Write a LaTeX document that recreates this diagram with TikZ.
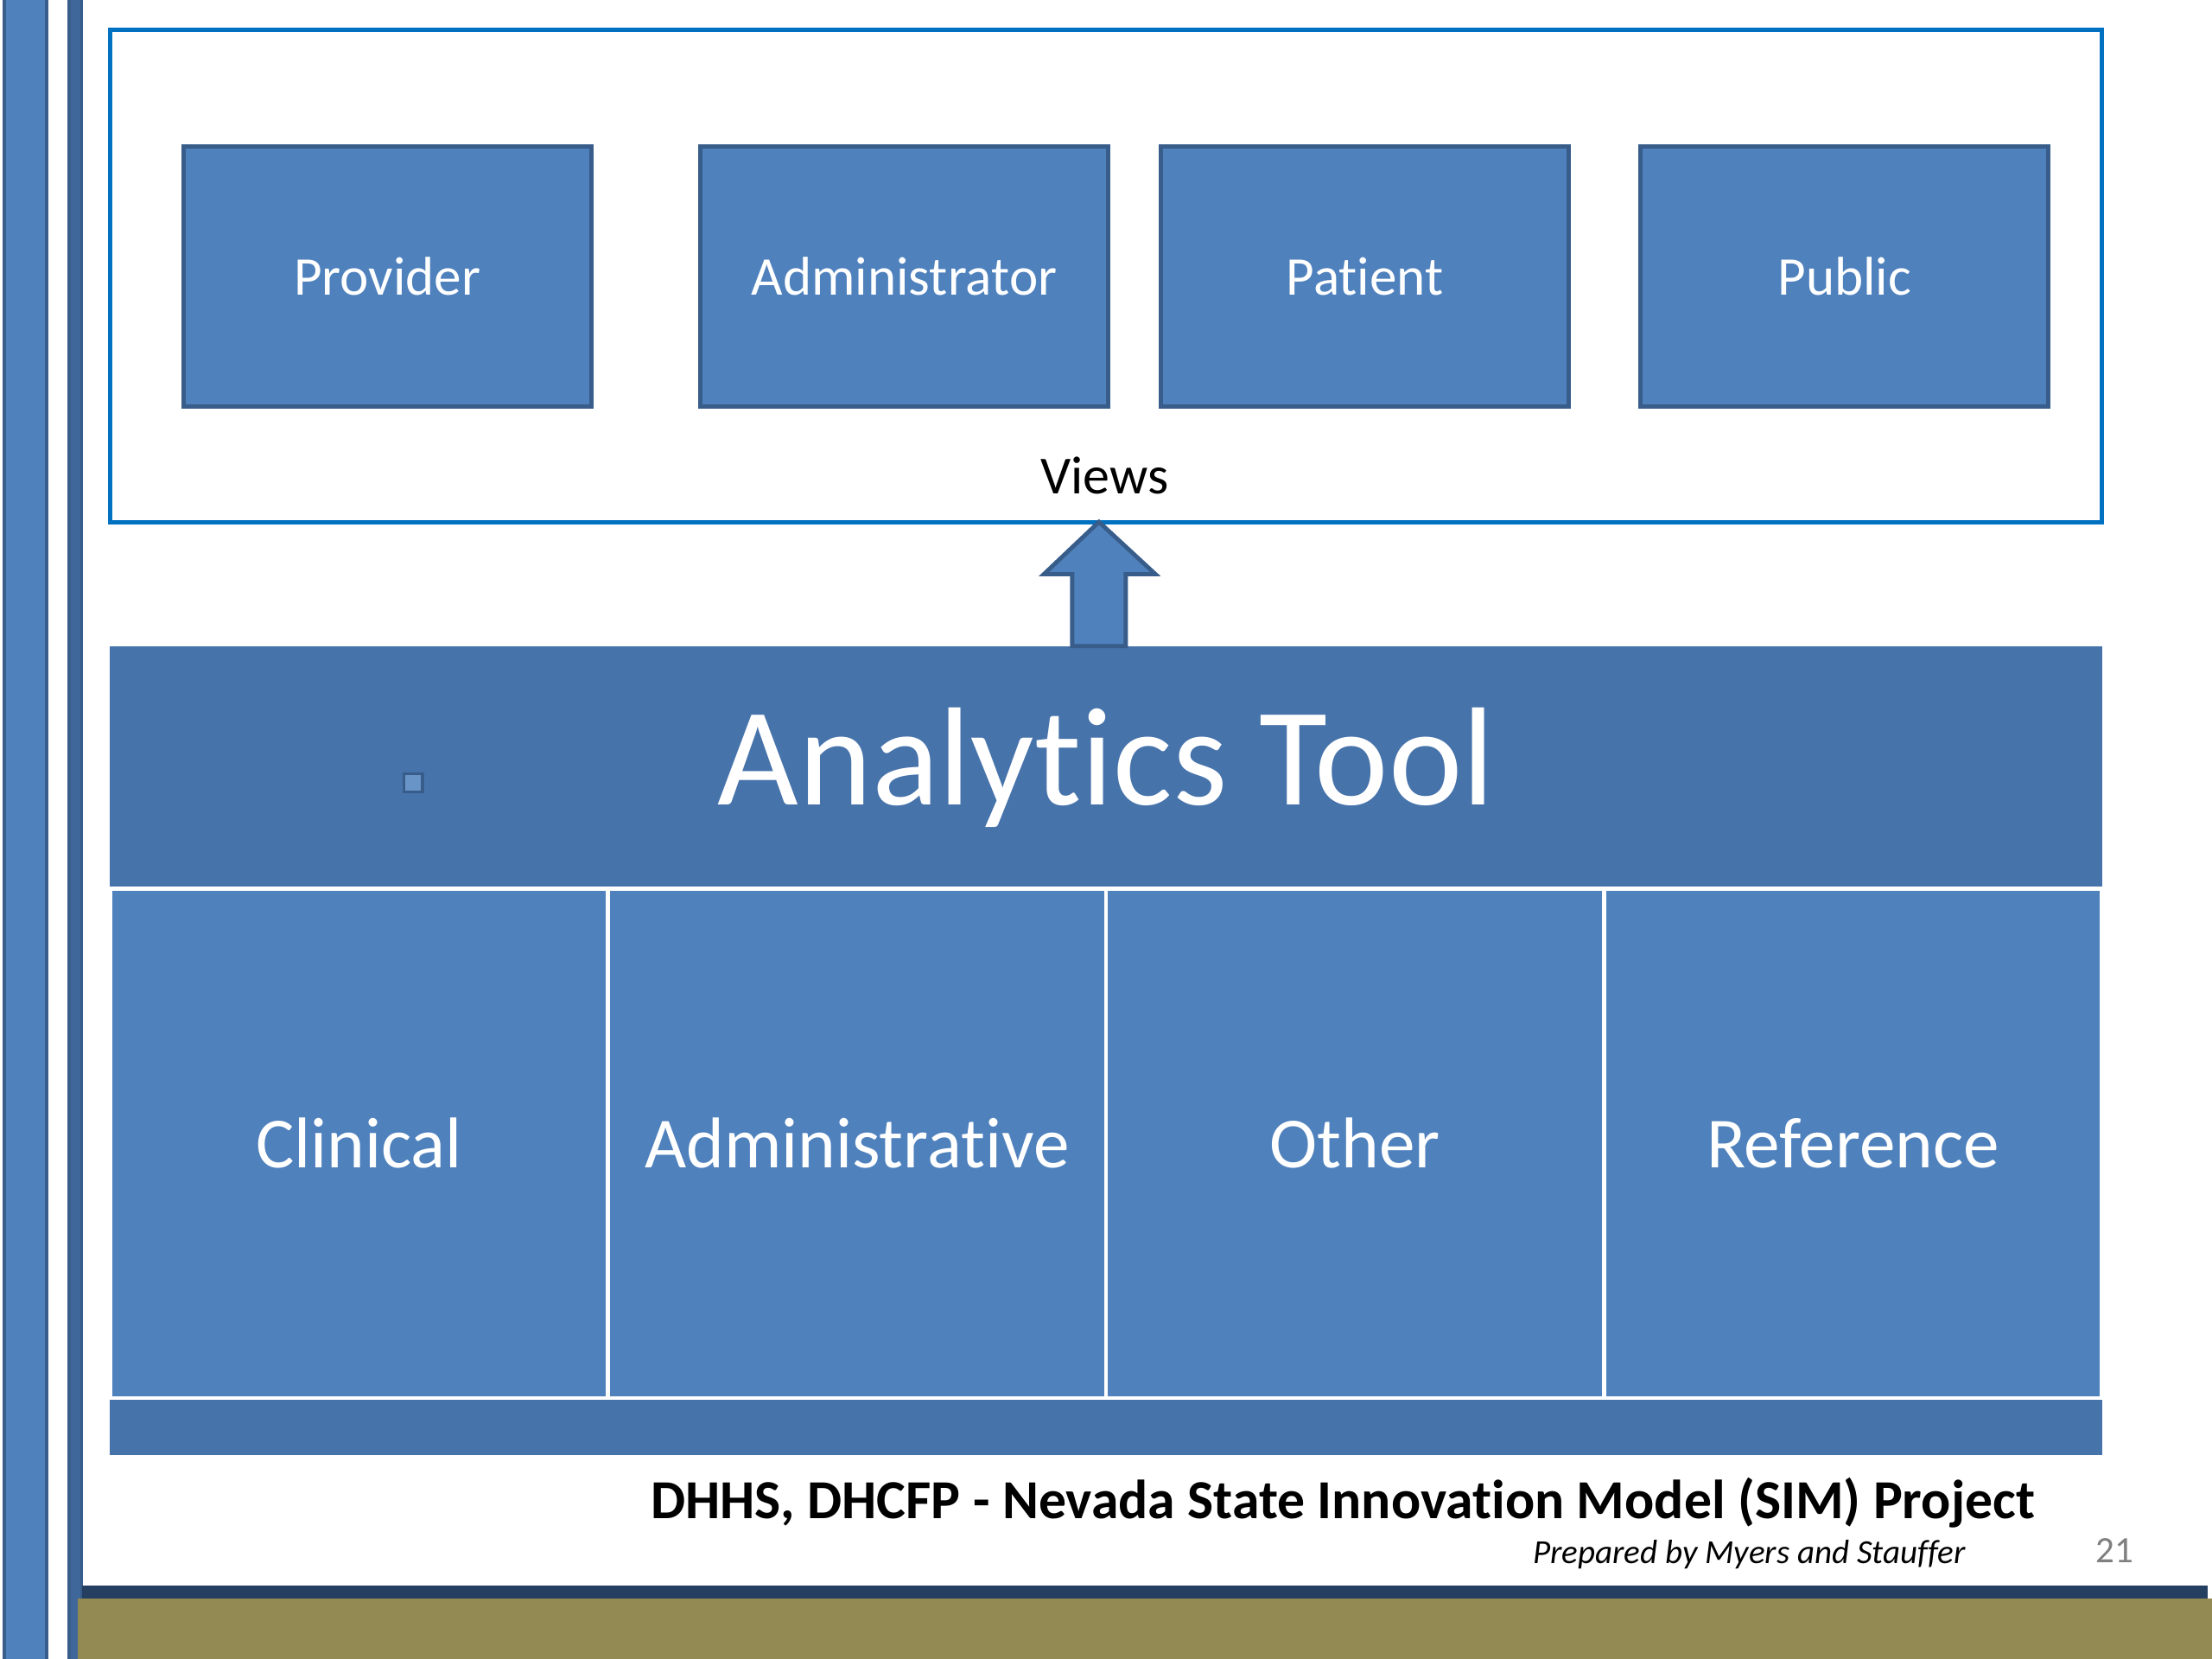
\documentclass[tikz,border=0pt]{standalone}
\usepackage{fontspec}
\setmainfont{Carlito}[Ligatures=NoCommon]
\setsansfont{Carlito}[Ligatures=NoCommon]
\usepackage{xcolor}
\usepackage{tikz}
\usetikzlibrary{positioning, calc}

\definecolor{boxfill}{HTML}{4F81BD}
\definecolor{boxborder}{HTML}{385D8A}
\definecolor{bandfill}{HTML}{4773AB}
\definecolor{frameblue}{HTML}{0070C0}
\definecolor{navyline}{HTML}{243F60}
\definecolor{olivebar}{HTML}{938953}

\begin{document}
\begin{tikzpicture}[
    font=\sffamily,
    % styles
    view_block/.style={
        draw=boxborder, fill=boxfill, line width=0.03cm, text=white,
        minimum width=2.89cm, minimum height=1.84cm, font=\sffamily\fontsize{11}{13}\selectfont
    },
    source_block/.style={
        draw=white, fill=boxfill, line width=0.03cm, text=white, outer sep=0pt,
        minimum width=3.53cm, minimum height=3.61cm, font=\sffamily\fontsize{14.5}{17}\selectfont
    },
    band_block/.style={
        fill=bandfill, inner sep=0pt, outer sep=0pt, minimum width=14.12cm
    },
    views_frame/.style={
        draw=frameblue, line width=0.03cm, inner sep=0pt, outer sep=0pt,
        minimum width=14.12cm, minimum height=3.49cm
    },
    block_arrow/.style={
        draw=boxborder, fill=boxfill, line width=0.03cm, line join=miter
    },
    side_bar/.style={
        draw=boxborder, fill=boxfill, line width=0.02cm
    }
]
    \useasboundingbox (0,0) rectangle (15.68,-11.76);

    % --- 1. SLIDE DECORATION ---
    \fill[white] (0,0) rectangle (15.68,-11.76);
    \draw[side_bar] (0.03,0.1) rectangle (0.33,-11.86);
    \draw[side_bar, fill=bandfill!90!black] (0.49,0.1) rectangle (0.58,-11.86);
    \fill[olivebar] (0.55,-11.33) rectangle (15.68,-11.76);
    \fill[navyline] (0.58,-11.24) rectangle (15.65,-11.33);

    % --- 2. VIEWS (Top) ---
    \node[views_frame] (views_frame) at (7.84,-1.955) {};

    \node[view_block] (provider_view) at (2.745,-1.96) {Provider};
    \node[view_block, right=0.745cm of provider_view] (admin_view) {Administrator};
    \node[view_block, right=0.345cm of admin_view] (patient_view) {Patient};
    \node[view_block, right=0.48cm of patient_view] (public_view) {Public};

    \node[font=\sffamily\fontsize{10.8}{13}\selectfont] (views_label) at (7.83,-3.37) {Views};

    % --- 3. ANALYTICS TOOL ---
    \node[band_block, minimum height=1.72cm, text=white,
          font=\sffamily\fontsize{28.2}{34}\selectfont] (analytics_band) at (7.84,-5.44) {Analytics Tool};

    \node[draw=boxborder, fill=boxfill!85!white, line width=0.02cm,
          minimum size=0.13cm, inner sep=0pt] (small_mark) at (2.93,-5.55) {};

    % Arrow: Analytics Tool -> Views
    \coordinate (arrow_base) at (analytics_band.north -| 7.79,0);
    \coordinate (arrow_tip) at (views_frame.south -| 7.79,0);
    \draw[block_arrow] ($(arrow_base)+(-0.19,0)$) -- ($(arrow_base)+(0.19,0)$)
        -- ($(arrow_base)+(0.19,0.51)$) -- ($(arrow_base)+(0.40,0.51)$)
        -- (arrow_tip)
        -- ($(arrow_base)+(-0.39,0.51)$) -- ($(arrow_base)+(-0.19,0.51)$) -- cycle;

    % --- 4. DATA SOURCES (Bottom) ---
    \node[band_block, minimum height=0.41cm, anchor=north] (bottom_band) at (7.84,-9.905) {};

    \node[source_block] (clinical_src) at (2.545,-8.105) {Clinical};
    \node[source_block, right=0cm of clinical_src] (admin_src) {Administrative};
    \node[source_block, right=0cm of admin_src] (other_src) {Other};
    \node[source_block, right=0cm of other_src] (reference_src) {Reference};

    % --- 5. FOOTER ---
    \node[anchor=east, inner sep=0pt, font=\sffamily\fontsize{11.1}{13}\selectfont\bfseries] (footer_title) at (14.43,-10.65)
        {DHHS, DHCFP - Nevada State Innovation Model (SIM) Project};
    \node[anchor=east, inner sep=0pt, font=\sffamily\fontsize{6.8}{8}\selectfont\itshape] (footer_credit) at (13.94,-11.02)
        {Prepared by Myers and Stauffer};
    \node[text=gray, font=\sffamily\fontsize{7.5}{9}\selectfont] (page_num) at (14.99,-10.99) {21};

\end{tikzpicture}
\end{document}
